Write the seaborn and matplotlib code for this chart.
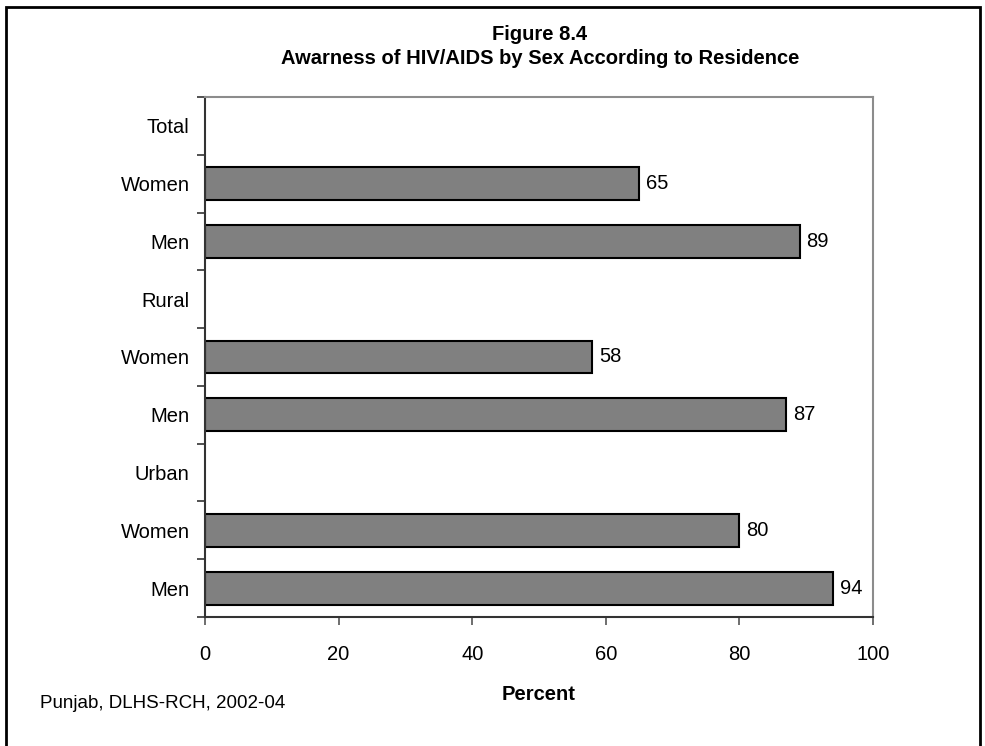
import matplotlib
matplotlib.use("Agg")
import matplotlib.pyplot as plt
from matplotlib.patches import Rectangle
import pandas as pd
import seaborn as sns

# Data (top to bottom); group headers carry no bar
row_keys = ["Total", "Total Women", "Total Men",
            "Rural", "Rural Women", "Rural Men",
            "Urban", "Urban Women", "Urban Men"]
row_labels = ["Total", "Women", "Men",
              "Rural", "Women", "Men",
              "Urban", "Women", "Men"]
bar_keys = ["Total Women", "Total Men", "Rural Women",
            "Rural Men", "Urban Women", "Urban Men"]
bar_values = [65, 89, 58, 87, 80, 94]

sns.set_theme(style="white")
plt.rcParams["font.family"] = ["Liberation Sans", "DejaVu Sans"]
plt.rcParams["text.color"] = "black"
plt.rcParams["axes.labelcolor"] = "black"
plt.rcParams["xtick.labelcolor"] = "black"
plt.rcParams["ytick.labelcolor"] = "black"

df = pd.DataFrame({"row": bar_keys, "percent": bar_values})

fig = plt.figure(figsize=(9.85, 7.46), dpi=100)
ax = fig.add_axes([205 / 985, 1 - 617 / 746, 668 / 985, 520 / 746])

sns.barplot(data=df, x="percent", y="row", order=row_keys, orient="h",
            color="#808080", saturation=1, width=0.57,
            edgecolor="black", linewidth=1.5, ax=ax)
for cont in ax.containers:
    ax.bar_label(cont, fmt="%d", padding=5, fontsize=14.5)

ax.set_xlim(0, 100)
ax.set_ylim(len(row_keys) - 0.5, -0.5)
ax.set_xticks(range(0, 101, 20))
ax.set_yticks(range(len(row_keys)))
ax.set_yticklabels(row_labels, fontsize=14.5)
ax.set_yticks([i - 0.5 for i in range(len(row_keys) + 1)], minor=True)
ax.tick_params(axis="y", which="major", length=0, pad=11)
ax.tick_params(axis="y", which="minor", left=True, length=6, width=1.2,
               color="#333333", direction="out")
ax.tick_params(axis="x", bottom=True, length=6, width=1.2,
               color="#555555", direction="out", labelsize=14.5, pad=14)
ax.set_ylabel("")
ax.set_xlabel("Percent", fontsize=14.5, fontweight="bold", labelpad=15)

for side in ["left", "bottom"]:
    ax.spines[side].set_color("#333333")
    ax.spines[side].set_linewidth(1.5)
for side in ["top", "right"]:
    ax.spines[side].set_visible(True)
    ax.spines[side].set_color("#8c8c8c")
    ax.spines[side].set_linewidth(1.5)

fig.text(540 / 985, 1 - 35 / 746, "Figure 8.4", ha="center", va="center",
         fontsize=14.5, fontweight="bold")
fig.text(540 / 985, 1 - 58 / 746, "Awarness of HIV/AIDS by Sex According to Residence",
         ha="center", va="center", fontsize=14.5, fontweight="bold")
fig.text(40 / 985, 1 - 703 / 746, "Punjab, DLHS-RCH, 2002-04",
         ha="left", va="center", fontsize=13.5)

fig.patches.append(Rectangle((6 / 985, -0.05), 974 / 985, 1.05 - 7 / 746,
                             transform=fig.transFigure, fill=False,
                             edgecolor="black", linewidth=2))

fig.savefig("out.png", dpi=100)
